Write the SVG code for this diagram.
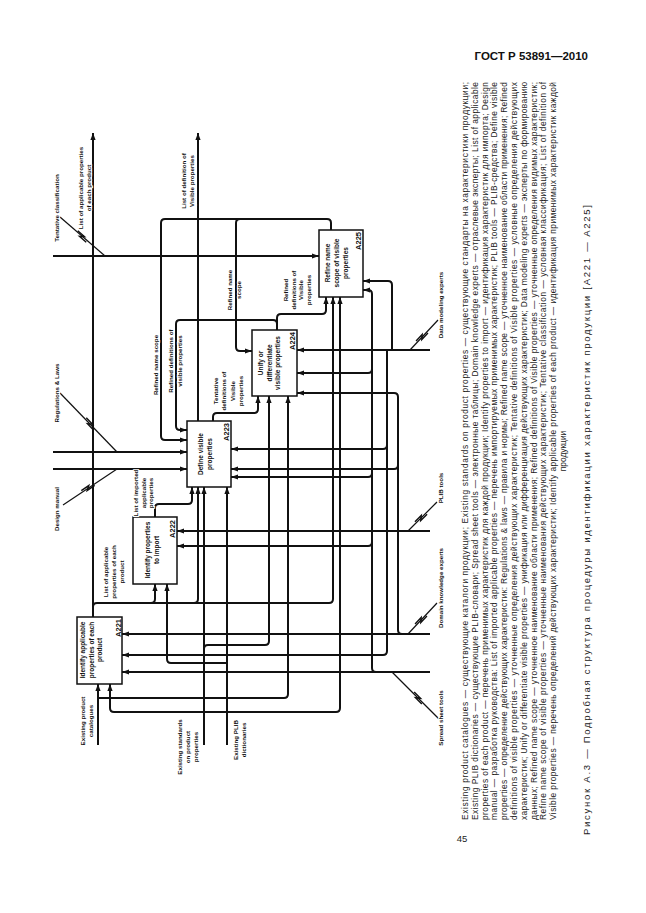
<svg xmlns="http://www.w3.org/2000/svg" xmlns:xlink="http://www.w3.org/1999/xlink" width="646" height="913" viewBox="0 0 646 913">
<style>
.box{fill:#fff;stroke:#111;stroke-width:1.5}
.c{fill:none;stroke:#111;stroke-width:2}
.d{fill:none;stroke:#111;stroke-width:1.2}
.bl{font-family:"Liberation Sans",Arial,sans-serif;font-weight:bold;font-size:6.5px;fill:#111;text-anchor:middle}
.id{font-family:"Liberation Sans",Arial,sans-serif;font-weight:bold;font-size:7.5px;fill:#111;text-anchor:end}
.lb{font-family:"Liberation Sans",Arial,sans-serif;font-weight:bold;font-size:6.2px;fill:#111;text-anchor:middle;paint-order:stroke;stroke:#fff;stroke-width:2}
.p{font-family:"Liberation Sans",Arial,sans-serif;font-size:8.4px;fill:#222}
.cap{font-family:"Liberation Sans",Arial,sans-serif;font-size:9.5px;fill:#222}
.hd{font-family:"Liberation Sans",Arial,sans-serif;font-weight:bold;font-size:11.5px;fill:#111;text-anchor:end}
</style>
<defs>
<marker id="ah" markerUnits="userSpaceOnUse" markerWidth="7" markerHeight="6" viewBox="0 0 7 6" refX="7" refY="3" orient="auto">
<path d="M0,0.4 L7,3 L0,5.6 z" fill="#111"/>
</marker>
<path id="bolt" d="M-7,-1.6 L2,-1.6 L-2,1.6 L7,1.6" fill="none" stroke="#111" stroke-width="1.4"/>
</defs>
<rect width="646" height="913" fill="#fff"/>
<text class="hd" x="588" y="60">ГОСТ Р 53891—2010</text>

<g id="connectors">
<path class="c" d="M93,617 V133" marker-end="url(#ah)"/>
<path class="c" d="M93,607 Q93,603 97,603 H329 Q333,603 333,599 V297" marker-end="url(#ah)"/>
<path class="c" d="M151,603 Q155,603 155,599 V584" marker-end="url(#ah)"/>
<path class="c" d="M194,603 Q198,603 198,599 V487" marker-end="url(#ah)"/>
<path class="c" d="M155,517 V508 Q155,504 159,504 H188 Q192,504 192,500 V487" marker-end="url(#ah)"/>
<path class="c" d="M198,421 V133" marker-end="url(#ah)"/>
<path class="c" d="M213,421 V417 Q213,413 217,413 H254 Q258,413 258,409 V396" marker-end="url(#ah)"/>
<path class="c" d="M277,330 V324 Q277,320 273,320 H180 Q176,320 176,324 V426 Q176,430 180,430 H187" marker-end="url(#ah)"/>
<path class="c" d="M277,324 V318 Q277,314 281,314 H322 Q326,314 326,310 V297" marker-end="url(#ah)"/>
<path class="c" d="M331,230 V223 Q331,219 327,219 H165 Q161,219 161,223 V436 Q161,440 165,440 H187" marker-end="url(#ah)"/>
<path class="c" d="M240,219 Q236,219 236,223 V347 Q236,351 240,351 H252" marker-end="url(#ah)"/>
<path class="c" d="M53,256 H319" marker-end="url(#ah)"/>
<path class="c" d="M53,452 H187" marker-end="url(#ah)"/>
<path class="c" d="M53,469 H187" marker-end="url(#ah)"/>
<path class="c" d="M430,350 H297" marker-end="url(#ah)"/>
<path class="c" d="M392,350 V285 Q392,281 388,281 H363" marker-end="url(#ah)"/>
<path class="c" d="M387,350 V651 Q387,655 383,655 H122" marker-end="url(#ah)"/>
<path class="c" d="M387,445 Q387,449 383,449 H231" marker-end="url(#ah)"/>
<path class="c" d="M430,634 H122" marker-end="url(#ah)"/>
<path class="c" d="M402,634 Q398,634 398,630 V397 Q398,393 394,393 H297" marker-end="url(#ah)"/>
<path class="c" d="M398,465 Q398,469 394,469 H231" marker-end="url(#ah)"/>
<path class="c" d="M430,531 H177" marker-end="url(#ah)"/>
<path class="c" d="M430,672 H122" marker-end="url(#ah)"/>
<path class="c" d="M376,672 Q372,672 372,668 V294 Q372,290 368,290 H363" marker-end="url(#ah)"/>
<path class="c" d="M372,369 Q372,373 368,373 H297" marker-end="url(#ah)"/>
<path class="c" d="M372,473 Q372,477 368,477 H231" marker-end="url(#ah)"/>
<path class="c" d="M372,542 Q372,546 368,546 H177" marker-end="url(#ah)"/>
<path class="c" d="M98,745 V684" marker-end="url(#ah)"/>
<path class="c" d="M98,698 H284 Q288,698 288,694 V396" marker-end="url(#ah)"/>
<path class="c" d="M204,745 V487" marker-end="url(#ah)"/>
<path class="c" d="M204,712 H114 Q110,712 110,708 V684" marker-end="url(#ah)"/>
<path class="c" d="M204,712 H336 Q340,712 340,708 V297" marker-end="url(#ah)"/>
<path class="c" d="M204,649 Q204,645 208,645 H265 Q269,645 269,641 V396" marker-end="url(#ah)"/>
<path class="c" d="M227,745 V487" marker-end="url(#ah)"/>
<path class="c" d="M227,663 H171 Q167,663 167,659 V584" marker-end="url(#ah)"/>
<path class="d" d="M105,256 L60,217"/>
<path class="d" d="M117,452 L60,393"/>
<path class="d" d="M117,469 L63,505"/>
<path class="d" d="M410,350 L438,320"/>
<path class="d" d="M408,531 L437,502"/>
<path class="d" d="M408,634 L437,603"/>
<path class="d" d="M392,672 L440,720"/>
<use xlink:href="#bolt" transform="translate(82,236.5) rotate(40.9)"/>
<use xlink:href="#bolt" transform="translate(90,424) rotate(46)"/>
<use xlink:href="#bolt" transform="translate(88,488) rotate(-33.7)"/>
<use xlink:href="#bolt" transform="translate(422,337) rotate(-47)"/>
<use xlink:href="#bolt" transform="translate(421,518) rotate(-45)"/>
<use xlink:href="#bolt" transform="translate(421,620) rotate(-47)"/>
<use xlink:href="#bolt" transform="translate(418,698) rotate(45)"/>
</g>

<g id="A221">
<rect class="box" x="77" y="617" width="45" height="67"/>
<text class="bl" transform="translate(85,650) rotate(-90)"><tspan x="0" dy="0">Identify applicable</tspan><tspan x="0" dy="8.5">properties of each</tspan><tspan x="0" dy="8.5">product</tspan></text>
<text class="id" transform="translate(121,619) rotate(-90)">A221</text>
</g>
<g id="A222">
<rect class="box" x="133" y="517" width="44" height="67"/>
<text class="bl" transform="translate(150,550) rotate(-90)"><tspan x="0" dy="0">Identify properties</tspan><tspan x="0" dy="9">to import</tspan></text>
<text class="id" transform="translate(175,520) rotate(-90)">A222</text>
</g>
<g id="A223">
<rect class="box" x="187" y="421" width="44" height="66"/>
<text class="bl" transform="translate(203,454) rotate(-90)"><tspan x="0" dy="0">Define visible</tspan><tspan x="0" dy="9">properties</tspan></text>
<text class="id" transform="translate(229,423) rotate(-90)">A223</text>
</g>
<g id="A224">
<rect class="box" x="252" y="330" width="45" height="66"/>
<text class="bl" transform="translate(263,363) rotate(-90)"><tspan x="0" dy="0">Unify or</tspan><tspan x="0" dy="8.5">differentiate</tspan><tspan x="0" dy="8.5">visible properties</tspan></text>
<text class="id" transform="translate(295,332) rotate(-90)">A224</text>
</g>
<g id="A225">
<rect class="box" x="319" y="230" width="44" height="67"/>
<text class="bl" transform="translate(330,263) rotate(-90)"><tspan x="0" dy="0">Refine name</tspan><tspan x="0" dy="9">scope of visible</tspan><tspan x="0" dy="9">properties</tspan></text>
<text class="id" transform="translate(361,232) rotate(-90)">A225</text>
</g>

<g id="labels">
<text class="lb" transform="translate(83,188) rotate(-90)"><tspan x="0" dy="0">List of applicable properties</tspan><tspan x="0" dy="8">of each product</tspan></text>
<text class="lb" transform="translate(186,181) rotate(-90)"><tspan x="0" dy="0">List of definition of</tspan><tspan x="0" dy="8">Visible properties</tspan></text>
<text class="lb" transform="translate(59,208) rotate(-90)">Tentative classification</text>
<text class="lb" transform="translate(59,393) rotate(-90)">Regulations &amp; Laws</text>
<text class="lb" transform="translate(59,509) rotate(-90)">Design manual</text>
<text class="lb" transform="translate(158,365) rotate(-90)">Refined name scope</text>
<text class="lb" transform="translate(173,361) rotate(-90)"><tspan x="0" dy="0">Refined definitions of</tspan><tspan x="0" dy="9">visible properties</tspan></text>
<text class="lb" transform="translate(232,290) rotate(-90)"><tspan x="0" dy="0">Refined name</tspan><tspan x="0" dy="8.5">scope</tspan></text>
<text class="lb" transform="translate(218,391) rotate(-90)"><tspan x="0" dy="0">Tentative</tspan><tspan x="0" dy="8.3">definitions of</tspan><tspan x="0" dy="8.3">Visible</tspan><tspan x="0" dy="8.3">properties</tspan></text>
<text class="lb" transform="translate(288,290) rotate(-90)"><tspan x="0" dy="0">Refined</tspan><tspan x="0" dy="7.5">definitions of</tspan><tspan x="0" dy="7.5">Visible</tspan><tspan x="0" dy="7.5">properties</tspan></text>
<text class="lb" transform="translate(138,493) rotate(-90)"><tspan x="0" dy="0">List of imported</tspan><tspan x="0" dy="7.5">applicable</tspan><tspan x="0" dy="7.5">properties</tspan></text>
<text class="lb" transform="translate(108,572) rotate(-90)"><tspan x="0" dy="0">List of applicable</tspan><tspan x="0" dy="8">properties of each</tspan><tspan x="0" dy="8">product</tspan></text>
<text class="lb" transform="translate(85,721) rotate(-90)"><tspan x="0" dy="0">Existing product</tspan><tspan x="0" dy="8">catalogues</tspan></text>
<text class="lb" transform="translate(182,747) rotate(-90)"><tspan x="0" dy="0">Existing standards</tspan><tspan x="0" dy="8">on product</tspan><tspan x="0" dy="8">properties</tspan></text>
<text class="lb" transform="translate(238,740) rotate(-90)"><tspan x="0" dy="0">Existing PLIB</tspan><tspan x="0" dy="8">dictionaries</tspan></text>
<text class="lb" transform="translate(443,305) rotate(-90)">Data modeling experts</text>
<text class="lb" transform="translate(443,488) rotate(-90)">PLIB tools</text>
<text class="lb" transform="translate(443,588) rotate(-90)">Domain knowledge experts</text>
<text class="lb" transform="translate(443,718) rotate(-90)">Spread sheet tools</text>
</g>

<g id="legend" transform="rotate(-90)">
<text class="p" x="-820" y="468" textLength="738" lengthAdjust="spacing">Existing product catalogues — существующие каталоги продукции; Existing standards on product properties — существующие стандарты на характеристики продукции;</text>
<text class="p" x="-820" y="477.8" textLength="738" lengthAdjust="spacing">Existing PLIB dictionaries — существующие PLIB-словари; Spread sheet tools — электронные таблицы; Domain knowledge experts — отраслевые эксперты; List of applicable</text>
<text class="p" x="-820" y="487.6" textLength="738" lengthAdjust="spacing">properties of each product — перечень применимых характеристик для каждой продукции; Identify properties to import — идентификация характеристик для импорта; Design</text>
<text class="p" x="-820" y="497.4" textLength="738" lengthAdjust="spacing">manual — разработка руководства: List of imported applicable properties — перечень импортируемых применимых характеристик; PLIB tools — PLIB-средства; Define visible</text>
<text class="p" x="-820" y="507.2" textLength="738" lengthAdjust="spacing">properties — определение действующих характеристик: Regulations &amp; laws — правила и нормы; Refined name scope — уточненное наименование области применения; Refined</text>
<text class="p" x="-820" y="517" textLength="738" lengthAdjust="spacing">definitions of visible properties — уточненные определения действующих характеристик; Tentative definitions of Visible properties — условные определения действующих</text>
<text class="p" x="-820" y="526.8" textLength="738" lengthAdjust="spacing">характеристик; Unify or differentiate visible properties — унификация или дифференциация действующих характеристик; Data modeling experts — эксперты по формированию</text>
<text class="p" x="-820" y="536.6" textLength="738" lengthAdjust="spacing">данных; Refined name scope — уточненное наименование области применения; Refined definitions of Visible properties — уточненные определения видимых характеристик;</text>
<text class="p" x="-820" y="546.4" textLength="738" lengthAdjust="spacing">Refine name scope of visible properties — уточненные наименования действующих характеристик; Tentative classification — условная классификация; List of definition of</text>
<text class="p" x="-820" y="556.2" textLength="738" lengthAdjust="spacing">Visible properties — перечень определений действующих характеристик; Identify applicable properties of each product — идентификация применимых характеристик каждой</text>
<text class="p" x="-451" y="566" text-anchor="middle">продукции</text>
<text class="cap" x="-835" y="590" textLength="630" lengthAdjust="spacing">Рисунок А.3 — Подробная структура процедуры идентификации характеристик продукции [A221 — A225]</text>
</g>
<text class="cap" x="462" y="842" text-anchor="middle">45</text>
</svg>
